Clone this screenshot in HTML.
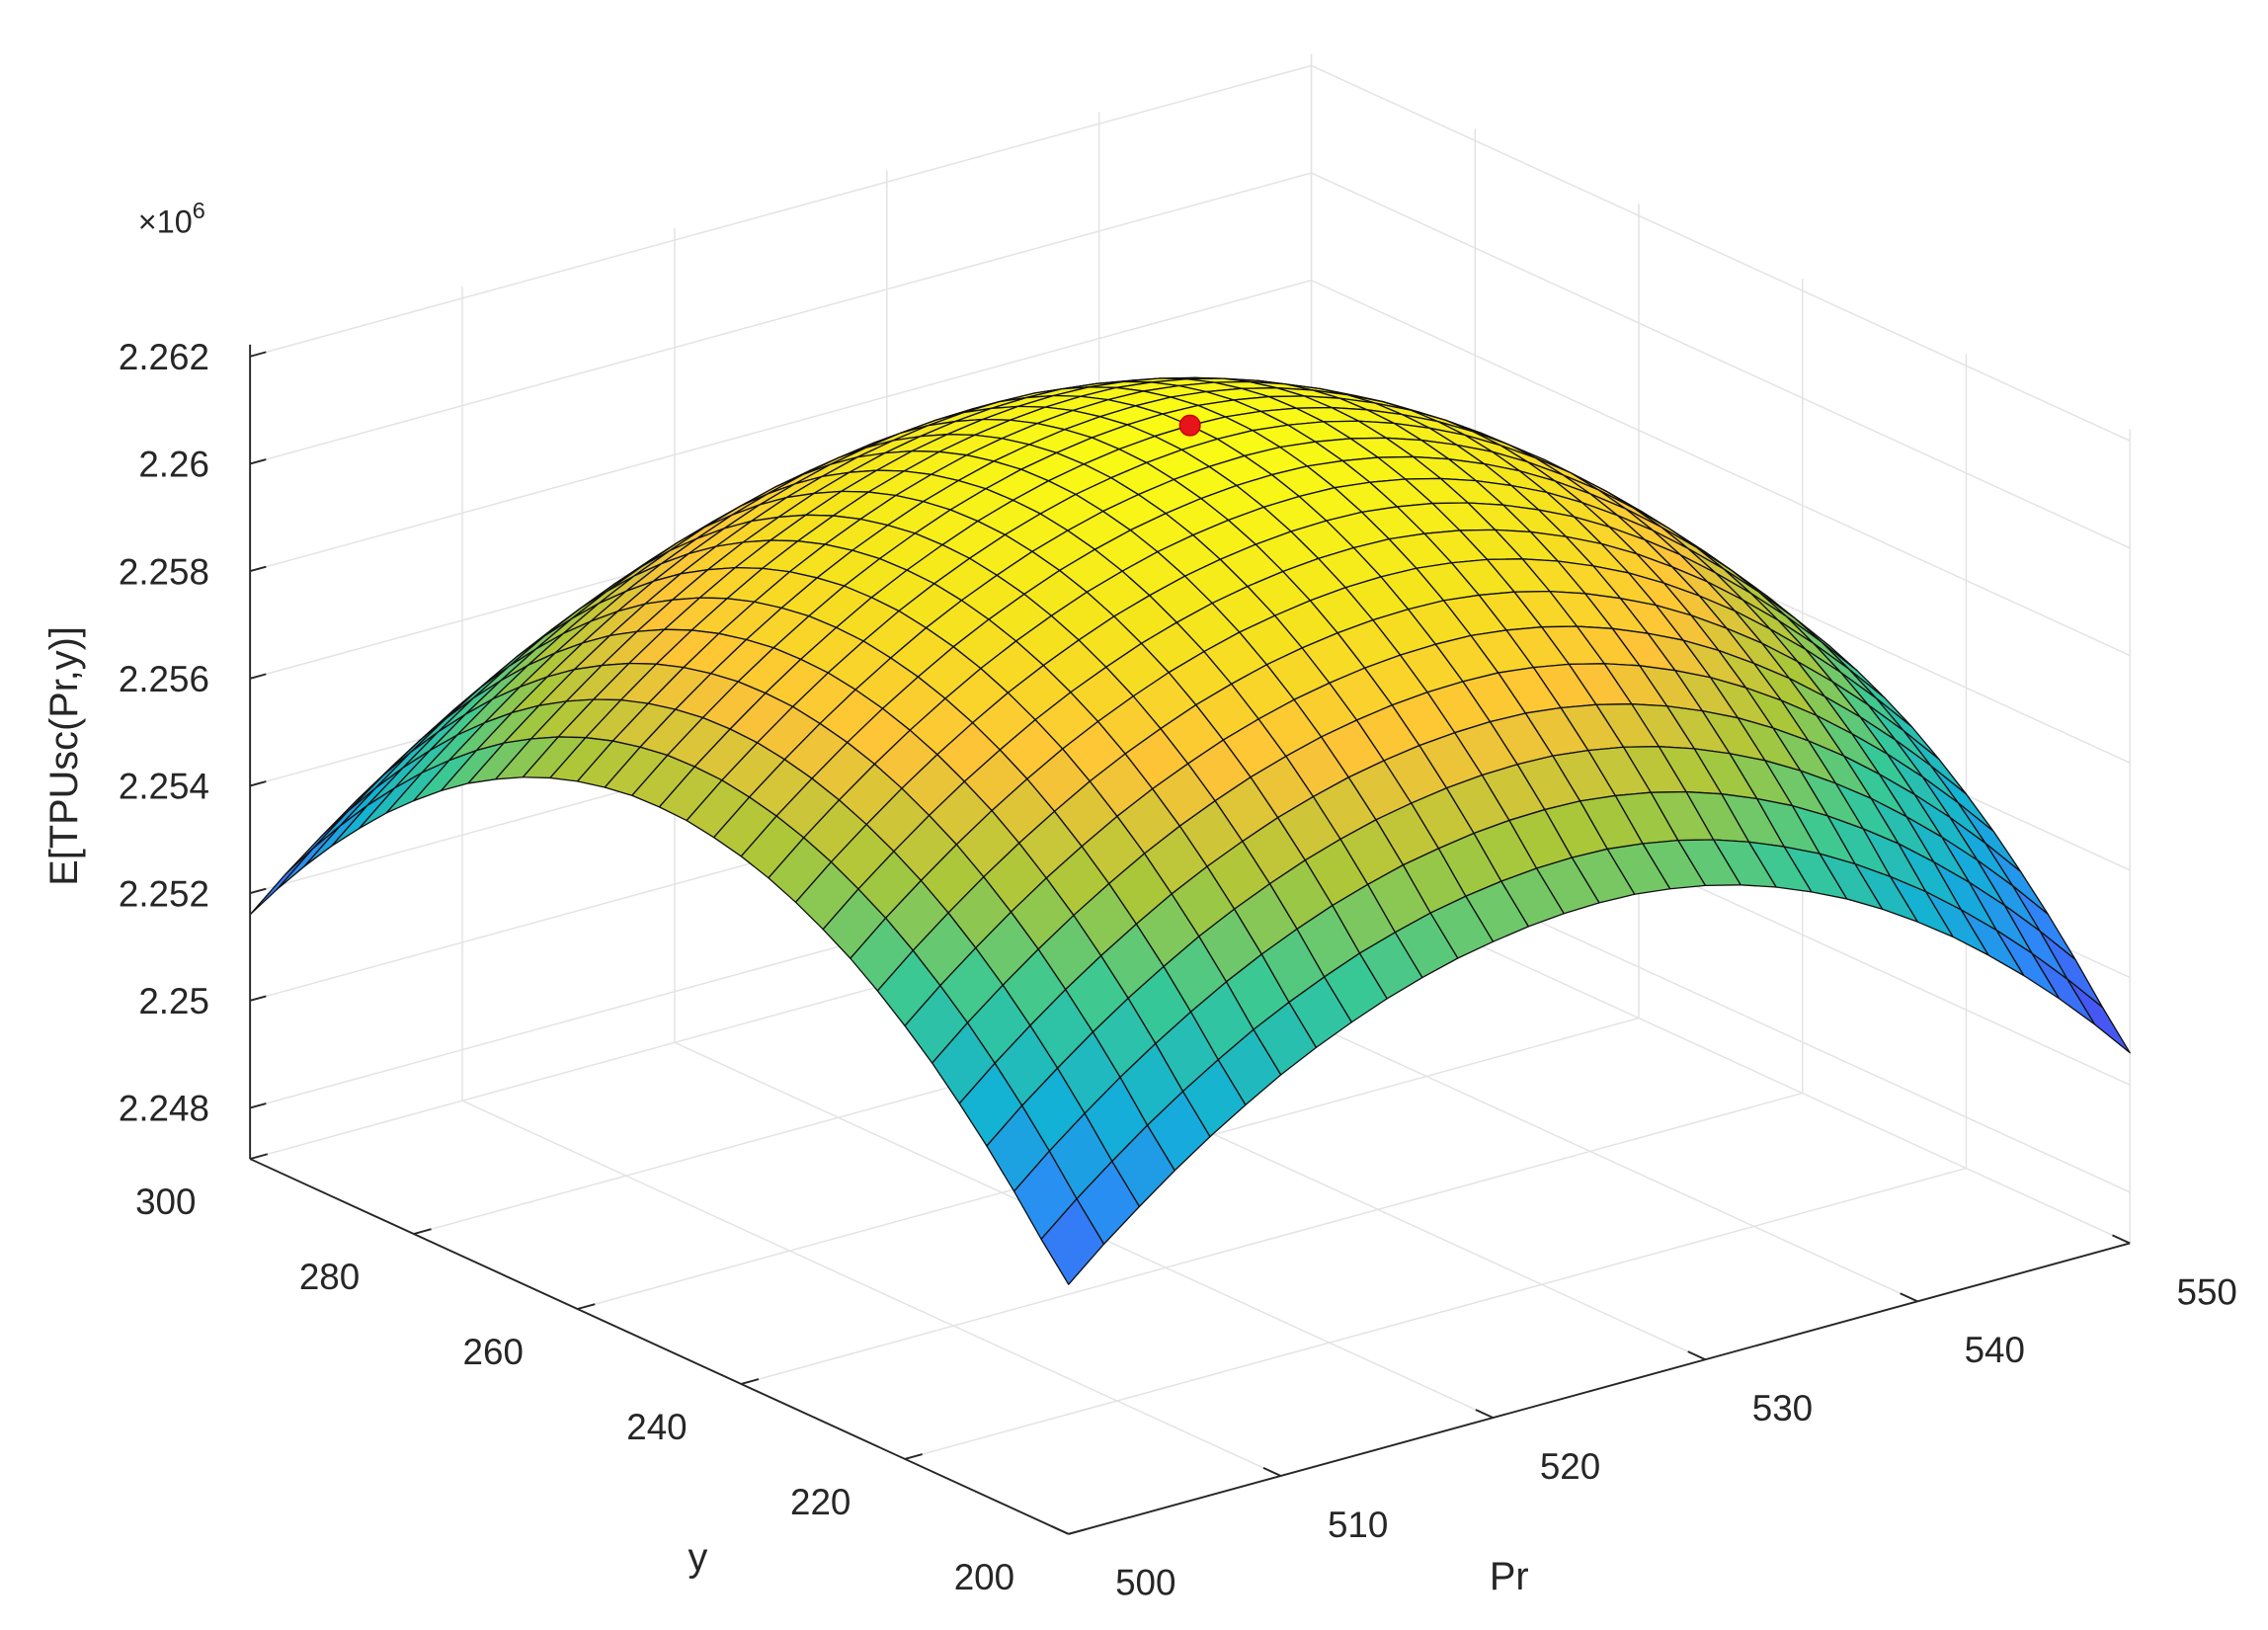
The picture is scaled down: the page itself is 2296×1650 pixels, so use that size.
<!DOCTYPE html>
<html><head><meta charset="utf-8"><style>html,body{margin:0;padding:0;background:#fff}svg{display:block}text{font-family:"Liberation Sans",sans-serif;fill:#262626}</style></head>
<body>
<svg id="chart" width="2296" height="1650" viewBox="0 0 1560 1121" preserveAspectRatio="none" xmlns="http://www.w3.org/2000/svg">
<g id="grid"></g>
<g id="surf"></g>
<g id="axes"></g>
</svg>
<script>
const prTicks=[500,510,520,530,540,550];
const yTicks=[200,220,240,260,280,300];
const zTicks=[2.248,2.25,2.252,2.254,2.256,2.258,2.26,2.262];
const zTickLabels=["2.248","2.25","2.252","2.254","2.256","2.258","2.26","2.262"];
const peakZ=2.2615;
const peakPoint=[525,250,2.2615];
// drop from peak along Pr (500..550, 31 pts) and along y (300..200, 31 pts), units of 1e6
const prDrop=[.0044,.00383,.00331,.00282,.00237,.00196,.00158,.00125,.00096,.0007,.00049,.00031,.00018,.00008,.00002,0,.00002,.0001,.00022,.00039,.00061,.00088,.00119,.00156,.00198,.00244,.00296,.00352,.00413,.00479,.0055];
const yDrop=[.0055,.00479,.00413,.00352,.00296,.00244,.00198,.00156,.00119,.00088,.00061,.00039,.00022,.0001,.00002,0,.00002,.0001,.00022,.00039,.00061,.00088,.00119,.00156,.00198,.00244,.00296,.00352,.00413,.00479,.0054];

const NS="http://www.w3.org/2000/svg";
const prMin=500,prMax=550,yMax=300,yMin=200,zMin=2.24705,zMax=2.26222;
function P(pr,y,z){const u=(pr-prMin)/(prMax-prMin),v=(yMax-y)/(yMax-yMin);
 return [172+u*730+v*563, 797-u*200+v*258-(z-zMin)/(zMax-zMin)*560];}
function mk(tag,attrs,parent){const e=document.createElementNS(NS,tag);for(const k in attrs)e.setAttribute(k,attrs[k]);parent.appendChild(e);return e;}
const grid=document.getElementById('grid'),surf=document.getElementById('surf'),axes=document.getElementById('axes');
function line(a,b,st,w,par,name){const l=mk('line',{x1:a[0],y1:a[1],x2:b[0],y2:b[1],stroke:st,'stroke-width':w},par);
 
 return l;}
const gc="#e3e3e3";
zTicks.forEach(z=>{line(P(prMin,yMax,z),P(prMax,yMax,z),gc,1,grid,'z-grid-line');line(P(prMax,yMax,z),P(prMax,yMin,z),gc,1,grid,'z-grid-line');});
prTicks.forEach(p=>{line(P(p,yMin,zMin),P(p,yMax,zMin),gc,1,grid,'pr-grid-line');line(P(p,yMax,zMin),P(p,yMax,zMax),gc,1,grid,'pr-grid-line');});
yTicks.forEach(y=>{line(P(prMin,y,zMin),P(prMax,y,zMin),gc,1,grid,'y-grid-line');line(P(prMax,y,zMin),P(prMax,y,zMax),gc,1,grid,'y-grid-line');});
const par=[[0,62,38,168],[.125,72,82,244],[.25,46,135,247],[.375,18,177,214],[.5,55,200,151],[.625,171,199,57],[.75,254,195,56],[.875,245,228,29],[1,249,251,21]];
function cmap(t){t=Math.max(0,Math.min(1,t));for(let i=1;i<par.length;i++){if(t<=par[i][0]){const a=par[i-1],b=par[i],f=(t-a[0])/(b[0]-a[0]);
 return `rgb(${Math.round(a[1]+f*(b[1]-a[1]))},${Math.round(a[2]+f*(b[2]-a[2]))},${Math.round(a[3]+f*(b[3]-a[3]))})`;}}return 'rgb(249,251,21)';}
const N=prDrop.length,M=yDrop.length;
const prs=prDrop.map((_,i)=>prMin+(prMax-prMin)*i/(N-1));
const ys=yDrop.map((_,j)=>yMax-(yMax-yMin)*j/(M-1));
const Z=[];for(let i=0;i<N;i++){Z.push([]);for(let j=0;j<M;j++)Z[i].push(peakZ-prDrop[i]-yDrop[j]);}
let zlo=Infinity,zhi=-Infinity;Z.forEach(r=>r.forEach(z=>{zlo=Math.min(zlo,z);zhi=Math.max(zhi,z);}));
const cLo=zlo-0.08*(zhi-zlo);
const quads=[];
for(let i=0;i<N-1;i++)for(let j=0;j<M-1;j++){quads.push({i,j,d:(i/(N-1))-(j/(M-1))});}
quads.sort((a,b)=>b.d-a.d);
quads.forEach(q=>{const {i,j}=q;const pts=[P(prs[i],ys[j],Z[i][j]),P(prs[i+1],ys[j],Z[i+1][j]),P(prs[i+1],ys[j+1],Z[i+1][j+1]),P(prs[i],ys[j+1],Z[i][j+1])];
 const za=(Z[i][j]+Z[i+1][j]+Z[i+1][j+1]+Z[i][j+1])/4;
 const p=mk('polygon',{points:pts.map(a=>a[0].toFixed(1)+','+a[1].toFixed(1)).join(' '),fill:cmap((za-cLo)/(zhi-cLo)),stroke:'#111','stroke-width':0.9,'stroke-linejoin':'round'},surf);
 
 });
const pk=P(peakPoint[0],peakPoint[1],peakPoint[2]);
const dot=mk('circle',{cx:pk[0],cy:pk[1],r:7,fill:'#e8141c',stroke:'#c00','stroke-width':1},surf);


const ac="#262626";
line(P(prMin,yMax,zMin),P(prMin,yMax,zMax),ac,1.3,axes,'z-axis-line');
line(P(prMin,yMax,zMin),P(prMin,yMin,zMin),ac,1.3,axes,'y-axis-line');
line(P(prMin,yMin,zMin),P(prMax,yMin,zMin),ac,1.3,axes,'pr-axis-line');
function txt(s,x,y,anchor,size,name){const t=mk('text',{x:x,y:y,'text-anchor':anchor,'font-size':size},axes);t.textContent=s;
 
 return t;}
zTicks.forEach((z,k)=>{const a=P(prMin,yMax,z);line(a,[a[0]+11,a[1]-3],ac,1.3,axes,'z-tick');txt(zTickLabels[k],a[0]-28,a[1]+9,'end',25,'z-tick-label');});
yTicks.forEach(y=>{const a=P(prMin,y,zMin);line(a,[a[0]+12,a[1]-3.3],ac,1.3,axes,'y-tick');txt(String(y),a[0]-58,a[1]+38,'middle',25,'y-tick-label');});
prTicks.forEach(p=>{const a=P(p,yMin,zMin);line(a,[a[0]-12,a[1]-5.5],ac,1.3,axes,'pr-tick');txt(String(p),a[0]+53,a[1]+42,'middle',25,'pr-tick-label');});
txt('y',480,1080,'middle',27,'y-axis-title');
txt('Pr',1038,1093,'middle',27,'pr-axis-title');
const zt=txt('E[TPUsc(Pr,y)]',0,0,'middle',27,'z-axis-title');zt.setAttribute('transform','translate(53,520) rotate(-90)');
const ex=txt('×10',95,160,'start',22,'exponent-label');
const sup=mk('tspan',{dy:-10,'font-size':16},ex);sup.textContent='6';
</script>
</body></html>
